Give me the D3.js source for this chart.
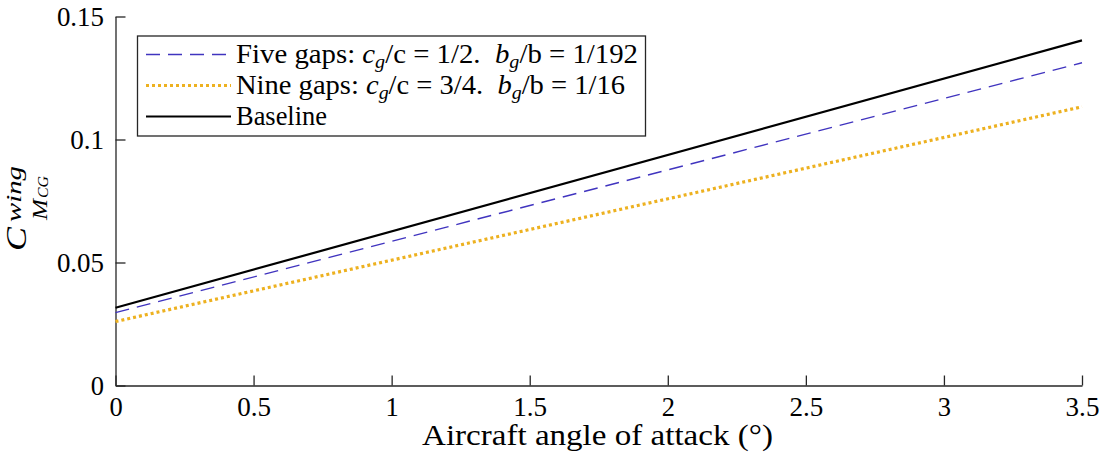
<!DOCTYPE html>
<html>
<head>
<meta charset="utf-8">
<script src="https://cdn.jsdelivr.net/npm/d3@7"></script>
<style>
  html, body { margin: 0; padding: 0; background: #fff; }
  svg { display: block; }
  text { font-family: "Liberation Serif"; fill: #000; }
</style>
</head>
<body>
<svg id="chart" width="1104" height="465"></svg>
<script>
// Angle of attack (degrees) at the ends of each straight line
const alpha = [0, 3.5];
// Wing pitching-moment coefficient about the CG
const fiveGaps = [0.0296, 0.1312];
const nineGaps = [0.0260, 0.1133];
const baseline = [0.0316, 0.1403];

const xTicks = [0, 0.5, 1, 1.5, 2, 2.5, 3, 3.5];
const yTicks = [0, 0.05, 0.1, 0.15];
const xTickLabels = ["0", "0.5", "1", "1.5", "2", "2.5", "3", "3.5"];
const yTickLabels = ["0", "0.05", "0.1", "0.15"];

const svg = d3.select("#chart");
const axisColor = "#262626";
const tickFont = 26.5;

// Label advance in the typeset face: digits 0.5em, decimal point 0.278em
const labelWidth = s => tickFont * s.split("").reduce((w, ch) => w + (ch === "." ? 0.278 : 0.5), 0);

const x = d3.scaleLinear().domain([0, 3.5]).range([115.5, 1082]);
const y = d3.scaleLinear().domain([0, 0.15]).range([385.5, 16.5]);

// Axes: left and bottom only, ticks pointing inward
const xAxis = d3.axisBottom(x).tickValues(xTicks).tickSizeInner(-10).tickSizeOuter(0)
  .tickFormat((d, i) => xTickLabels[i]).tickPadding(19);
const yAxis = d3.axisLeft(y).tickValues(yTicks).tickSizeInner(-10).tickSizeOuter(0)
  .tickFormat((d, i) => yTickLabels[i]);

const gx = svg.append("g").attr("transform", `translate(0,${y(0)})`).call(xAxis);
const gy = svg.append("g").attr("transform", `translate(${x(0)},0)`).call(yAxis);

[gx, gy].forEach(g => {
  g.attr("font-family", null);
  g.select(".domain").attr("stroke", axisColor).attr("stroke-width", 1.3);
  g.selectAll(".tick line").attr("stroke", axisColor).attr("stroke-width", 1.3);
  g.selectAll(".tick text")
    .attr("font-size", tickFont + 1)
    .attr("fill", "#000")
    .attr("textLength", function () { return labelWidth(this.textContent); })
    .attr("lengthAdjust", "spacingAndGlyphs");
});
gx.selectAll(".tick text").attr("dy", "0.41em");
gy.selectAll(".tick text").attr("dy", "0.33em").attr("x", -11.5);

// Series lines
const line = d3.line().x(d => x(d[0])).y(d => y(d[1]));
const series = [
  { name: "five", values: fiveGaps, color: "#4034bf", width: 1.4, dash: "14,8" },
  { name: "nine", values: nineGaps, color: "#EDB120", width: 3.2, dash: "3,3" },
  { name: "base", values: baseline, color: "#000000", width: 2.2, dash: null }
];
series.forEach(s => {
  svg.append("path")
    .datum(alpha.map((a, i) => [a, s.values[i]]))
    .attr("d", line)
    .attr("fill", "none")
    .attr("stroke", s.color)
    .attr("stroke-width", s.width)
    .attr("stroke-dasharray", s.dash);
});

// X-axis label
svg.append("text")
  .attr("x", 597.5).attr("y", 445)
  .attr("text-anchor", "middle")
  .attr("font-size", 30)
  .attr("textLength", 351).attr("lengthAdjust", "spacingAndGlyphs")
  .text("Aircraft angle of attack (°)");

// Y-axis label: C_{M_{CG}}^{wing}
const yl = svg.append("g").attr("transform", "translate(26,251) rotate(-90)");
yl.append("text").attr("x", 0).attr("y", 0).attr("font-size", 30).attr("font-style", "italic")
  .attr("textLength", 24).attr("lengthAdjust", "spacingAndGlyphs").text("C");
yl.append("text").attr("x", 29).attr("y", -5).attr("font-size", 20).attr("font-style", "italic")
  .attr("textLength", 56).attr("lengthAdjust", "spacingAndGlyphs").text("wing");
yl.append("text").attr("x", 31).attr("y", 21).attr("font-size", 20).attr("font-style", "italic")
  .attr("textLength", 21).attr("lengthAdjust", "spacingAndGlyphs").text("M");
yl.append("text").attr("x", 53).attr("y", 22).attr("font-size", 14.5).attr("font-style", "italic")
  .attr("textLength", 22).attr("lengthAdjust", "spacingAndGlyphs").text("CG");

// Legend
const legend = svg.append("g");
legend.append("rect")
  .attr("x", 137.5).attr("y", 36).attr("width", 508).attr("height", 100)
  .attr("fill", "#fff").attr("stroke", axisColor).attr("stroke-width", 1.3);

const rowY = [54.5, 85.5, 116.5];
const legendRows = [
  { s: series[0], parts: [["Five gaps: ", ""], ["c", "i"], ["g", "sub"], ["/c = 1/2.  ", ""], ["b", "i"], ["g", "sub"], ["/b = 1/192", ""]], len: 402 },
  { s: series[1], parts: [["Nine gaps: ", ""], ["c", "i"], ["g", "sub"], ["/c = 3/4.  ", ""], ["b", "i"], ["g", "sub"], ["/b = 1/16", ""]], len: 389 },
  { s: series[2], parts: [["Baseline", ""]], len: 91 }
];
legendRows.forEach((r, i) => {
  legend.append("line")
    .attr("x1", 146).attr("x2", 231)
    .attr("y1", rowY[i]).attr("y2", rowY[i])
    .attr("stroke", r.s.color)
    .attr("stroke-width", r.s.width)
    .attr("stroke-dasharray", r.s.dash);
  const t = legend.append("text")
    .attr("x", 236).attr("y", rowY[i] + 8.5)
    .attr("font-size", 26.5)
    .style("white-space", "pre")
    .attr("textLength", r.len).attr("lengthAdjust", "spacingAndGlyphs");
  let prevSub = false;
  r.parts.forEach(([txt, kind]) => {
    const ts = t.append("tspan").text(txt);
    if (kind === "i") ts.attr("font-style", "italic");
    if (kind === "sub") ts.attr("font-style", "italic").attr("font-size", 18.5).attr("dy", 5);
    if (prevSub) ts.attr("dy", -5);
    prevSub = kind === "sub";
  });
});
</script>
</body>
</html>
